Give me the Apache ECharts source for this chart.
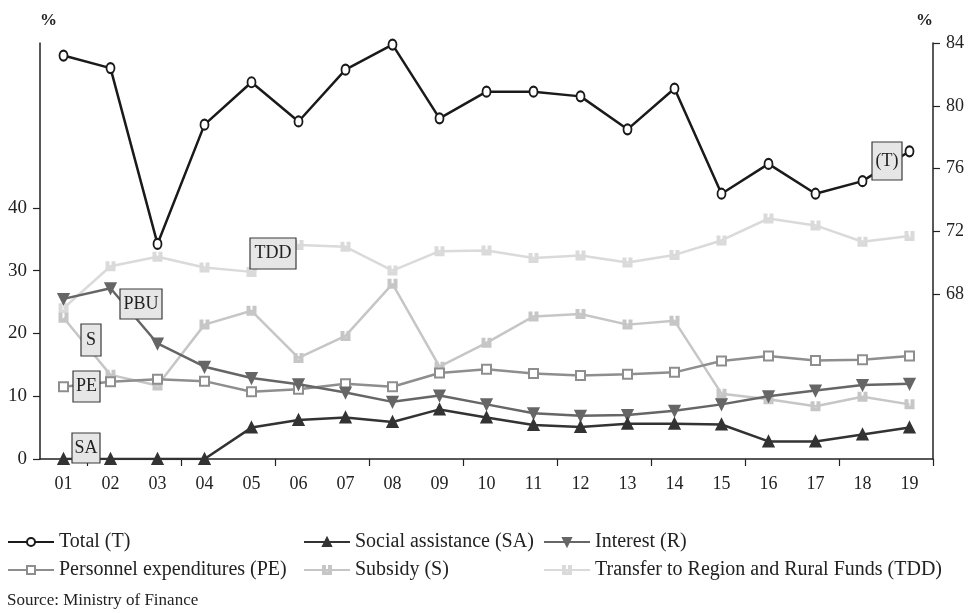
<!DOCTYPE html>
<html>
<head>
<meta charset="utf-8">
<script src="https://cdn.jsdelivr.net/npm/echarts@6/dist/echarts.min.js"></script>
<style>
html,body{margin:0;padding:0;background:#fff;}
#chart{width:973px;height:613px;}
</style>
</head>
<body>
<div id="chart"></div>
<script>
var categories = ['01','02','03','04','05','06','07','08','09','10','11','12','13','14','15','16','17','18','19'];
var total = [83.2, 82.4, 71.2, 78.8, 81.5, 79.0, 82.3, 83.9, 79.2, 80.9, 80.9, 80.6, 78.5, 81.1, 74.4, 76.3, 74.4, 75.2, 77.1];
var socialAssistance = [0, 0, 0, 0, 5.0, 6.2, 6.6, 5.9, 7.9, 6.6, 5.4, 5.1, 5.6, 5.6, 5.5, 2.8, 2.8, 3.9, 5.0];
var interest = [25.5, 27.2, 18.4, 14.7, 12.9, 11.9, 10.6, 9.1, 10.1, 8.7, 7.3, 6.9, 7.0, 7.7, 8.7, 10.0, 10.9, 11.8, 12.0];
var personnel = [11.5, 12.3, 12.7, 12.4, 10.7, 11.1, 12.0, 11.5, 13.7, 14.3, 13.6, 13.3, 13.5, 13.8, 15.6, 16.4, 15.7, 15.8, 16.4];
var subsidy = [22.5, 13.4, 11.7, 21.4, 23.6, 16.1, 19.6, 27.9, 14.7, 18.5, 22.7, 23.1, 21.4, 22.0, 10.4, 9.5, 8.4, 9.9, 8.7];
var transfer = [24.0, 30.7, 32.2, 30.5, 29.8, 34.1, 33.8, 30.0, 33.1, 33.2, 32.0, 32.4, 31.3, 32.5, 34.8, 38.3, 37.2, 34.6, 35.5];
var leftTicks = [0, 10, 20, 30, 40];
var rightTicks = [68, 72, 76, 80, 84];
var names = ['Total (T)', 'Social assistance (SA)', 'Interest (R)', 'Personnel expenditures (PE)', 'Subsidy (S)', 'Transfer to Region and Rural Funds (TDD)'];
var annotations = [
  {text: '(T)', x: 872, y: 142, w: 30, h: 38},
  {text: 'TDD', x: 250, y: 238, w: 46, h: 31},
  {text: 'PBU', x: 120, y: 289, w: 42, h: 30},
  {text: 'S', x: 81, y: 324, w: 20, h: 32},
  {text: 'PE', x: 73, y: 371, w: 27, h: 31},
  {text: 'SA', x: 72, y: 433, w: 28, h: 30}
];

var FONT = 'Liberation Serif';
var uShape = 'path://M0,0h2v7h4v-7h2v9h-8z';

function lineSeries(name, data, color, symbol, size, yIndex, extra) {
  var s = {
    name: name, type: 'line', data: data, yAxisIndex: yIndex,
    symbol: symbol, symbolSize: size,
    lineStyle: {color: color, width: 2.5},
    itemStyle: {color: color, borderColor: color, borderWidth: 2},
    emphasis: {disabled: true},
    animation: false
  };
  if (extra) { for (var k in extra) s[k] = extra[k]; }
  return s;
}

var graphics = [];
annotations.forEach(function (a) {
  graphics.push({
    type: 'rect', z: 100,
    shape: {x: a.x, y: a.y, width: a.w, height: a.h},
    style: {fill: '#e6e6e6', stroke: '#3a3a3a', lineWidth: 1.2}
  });
  graphics.push({
    type: 'text', z: 101,
    x: a.x + a.w / 2, y: a.y + a.h / 2,
    style: {text: a.text, fill: '#222', font: '18px "' + FONT + '"', textAlign: 'center', textVerticalAlign: 'middle'}
  });
});
graphics.push({
  type: 'text', left: 7, top: 592,
  style: {text: 'Source: Ministry of Finance', fill: '#222', font: '17px "' + FONT + '"'}
});

var legendBase = {
  orient: 'vertical', top: 532, itemWidth: 46, itemHeight: 10, itemGap: 8, padding: 0,
  textStyle: {fontFamily: FONT, fontSize: 20, color: '#222', lineHeight: 20},
  selectedMode: false
};
function legend(left, data) {
  var l = JSON.parse(JSON.stringify(legendBase));
  l.left = left; l.data = data;
  return l;
}

var chart = echarts.init(document.getElementById('chart'), null, {renderer: 'canvas'});
chart.setOption({
  backgroundColor: '#fff',
  animation: false,
  textStyle: {fontFamily: FONT},
  grid: {left: 40, right: 40, top: 43, bottom: 154, containLabel: false},
  legend: [
    legend(7, [names[0], names[3]]),
    legend(303, [names[1], names[4]]),
    legend(543, [names[2], names[5]])
  ],
  xAxis: {
    type: 'category', data: categories, boundaryGap: true,
    axisLine: {lineStyle: {color: '#222', width: 1.5}},
    axisTick: {show: true, length: 7, inside: false, lineStyle: {color: '#222', width: 1.2},
      interval: function (i) { return i % 2 === 1; }},
    axisLabel: {fontFamily: FONT, fontSize: 18, color: '#222', margin: 16, interval: 0},
    splitLine: {show: false}
  },
  yAxis: [
    {
      type: 'value', position: 'left', min: 0, max: 66.25,
      name: '%', nameLocation: 'end', nameGap: 14,
      nameTextStyle: {fontFamily: FONT, fontSize: 17, fontWeight: 'bold', color: '#222', align: 'left'},
      axisLine: {show: true, lineStyle: {color: '#222', width: 1.5}},
      axisTick: {show: true, length: 7, lineStyle: {color: '#222', width: 1.2}, customValues: leftTicks},
      axisLabel: {fontFamily: FONT, fontSize: 19, color: '#222', margin: 13, customValues: leftTicks},
      splitLine: {show: false}
    },
    {
      type: 'value', position: 'right', min: 57.5, max: 84,
      name: '%', nameLocation: 'end', nameGap: 14,
      nameTextStyle: {fontFamily: FONT, fontSize: 17, fontWeight: 'bold', color: '#222', align: 'right'},
      axisLine: {show: true, lineStyle: {color: '#222', width: 1.5}},
      axisTick: {show: true, length: 7, lineStyle: {color: '#222', width: 1.2}, customValues: rightTicks},
      axisLabel: {fontFamily: FONT, fontSize: 18, color: '#222', margin: 13, customValues: rightTicks},
      splitLine: {show: false}
    }
  ],
  series: [
    lineSeries(names[5], transfer, '#dadada', uShape, [8, 8], 0, {z: 2}),
    lineSeries(names[4], subsidy, '#c6c6c6', uShape, [8, 8], 0, {z: 3}),
    lineSeries(names[3], personnel, '#8e8e8e', 'emptyRect', [9, 9], 0, {z: 4}),
    lineSeries(names[2], interest, '#666666', 'triangle', [10, 10], 0, {z: 5, symbolRotate: 180}),
    lineSeries(names[1], socialAssistance, '#333333', 'triangle', [10, 10], 0, {z: 6}),
    lineSeries(names[0], total, '#1a1a1a', 'emptyCircle', [8, 10], 1, {z: 7})
  ],
  graphic: graphics
});
</script>
</body>
</html>
